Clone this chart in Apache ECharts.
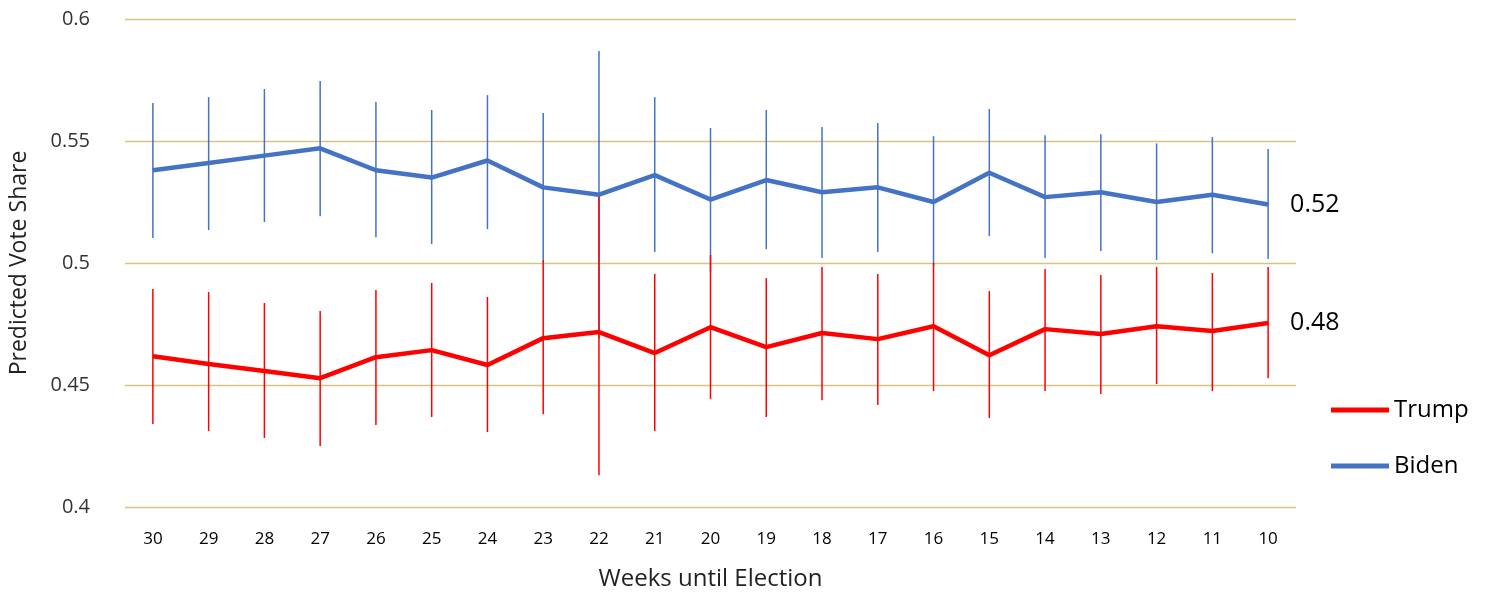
<!DOCTYPE html>
<html><head><meta charset="utf-8">
<script src="https://cdn.jsdelivr.net/npm/echarts@6/dist/echarts.min.js"></script>
<style>html,body{margin:0;padding:0;background:#fff}#c{width:1498px;height:596px}</style>
</head><body><div id="c"></div>
<script>
const weeks = ['30','29','28','27','26','25','24','23','22','21','20','19','18','17','16','15','14','13','12','11','10'];
const biden = [0.538,0.541,0.544,0.547,0.538,0.535,0.542,0.531,0.528,0.536,0.526,0.534,0.529,0.531,0.525,0.537,0.527,0.529,0.525,0.528,0.524];
const bidenHi = [0.5656,0.568,0.5713,0.5746,0.566,0.5627,0.5688,0.5615,0.5869,0.568,0.5553,0.5627,0.5557,0.5574,0.552,0.5631,0.5524,0.5528,0.549,0.5516,0.5467];
const bidenLo = [0.5102,0.5135,0.5168,0.5192,0.5106,0.5078,0.5139,0.5004,0.469,0.5045,0.4963,0.5057,0.502,0.5045,0.4987,0.511,0.502,0.5049,0.5012,0.504,0.5016];
const trump = [0.4618,0.4586,0.4557,0.4528,0.4614,0.4643,0.4582,0.4692,0.4717,0.4631,0.4737,0.4655,0.4713,0.4688,0.4741,0.4622,0.4729,0.4709,0.4741,0.4721,0.4754];
const trumpHi = [0.4893,0.4881,0.4836,0.4803,0.4889,0.4918,0.4861,0.501,0.528,0.4955,0.5033,0.4938,0.4984,0.4955,0.5,0.4885,0.4975,0.4951,0.4984,0.4959,0.4984];
const trumpLo = [0.434,0.4311,0.4283,0.425,0.4336,0.4369,0.4307,0.438,0.413,0.4311,0.4442,0.4369,0.4438,0.4418,0.4475,0.4365,0.4475,0.4463,0.4504,0.4475,0.4528];
const yTicks = ['0.4','0.45','0.5','0.55','0.6'];
const FONT = 'Open Sans, sans-serif';
function errSeries(lo, hi, color){
  return {type:'custom', silent:true, z:1,
    data: lo.map((l,i)=>[i,l,hi[i]]),
    renderItem:(p,api)=>{
      const a=api.coord([api.value(0),api.value(1)]), b=api.coord([api.value(0),api.value(2)]);
      return {type:'line', shape:{x1:a[0],y1:a[1],x2:b[0],y2:b[1]}, style:{stroke:color,lineWidth:1.5}};
    }};
}
const chart = echarts.init(document.getElementById('c'));
chart.setOption({
  animation:false,
  textStyle:{fontFamily:FONT},
  grid:{left:125,right:202,top:19,bottom:89},
  legend:{orient:'vertical',left:1326,top:393,itemGap:32,itemWidth:58,itemHeight:5,icon:'rect',
    textStyle:{fontSize:24,color:'#000',fontFamily:FONT},
    data:['Trump','Biden']},
  xAxis:{type:'category',data:weeks,boundaryGap:true,
    name:'Weeks until Election',nameLocation:'middle',nameGap:60,nameTextStyle:{fontSize:24,color:'#222'},
    axisLine:{show:false},axisTick:{show:false},
    axisLabel:{fontSize:17,color:'#000',margin:24}},
  yAxis:{type:'value',min:0.4,max:0.6,interval:0.05,
    name:'Predicted Vote Share',nameLocation:'middle',nameGap:94,nameTextStyle:{fontSize:23,color:'#222'},
    axisLabel:{fontSize:20,color:'#333',margin:35,formatter:v=>yTicks[Math.round((v-0.4)/0.05)]},
    splitLine:{lineStyle:{color:'#d9c37f',width:1.3,opacity:1}}},
  series:[
    errSeries(bidenLo,bidenHi,'#4472c4'),
    errSeries(trumpLo,trumpHi,'#ff0000'),
    {name:'Trump',type:'line',data:trump,symbol:'none',z:3,lineStyle:{color:'#ff0000',width:4.5},itemStyle:{color:'#ff0000'},
      endLabel:{show:true,formatter:p=>p.value.toFixed(2),fontSize:25,color:'#000',distance:22,fontFamily:FONT}},
    {name:'Biden',type:'line',data:biden,symbol:'none',z:3,lineStyle:{color:'#4472c4',width:4.5},itemStyle:{color:'#4472c4'},
      endLabel:{show:true,formatter:p=>p.value.toFixed(2),fontSize:25,color:'#000',distance:22,fontFamily:FONT}}
  ]
});
</script></body></html>
